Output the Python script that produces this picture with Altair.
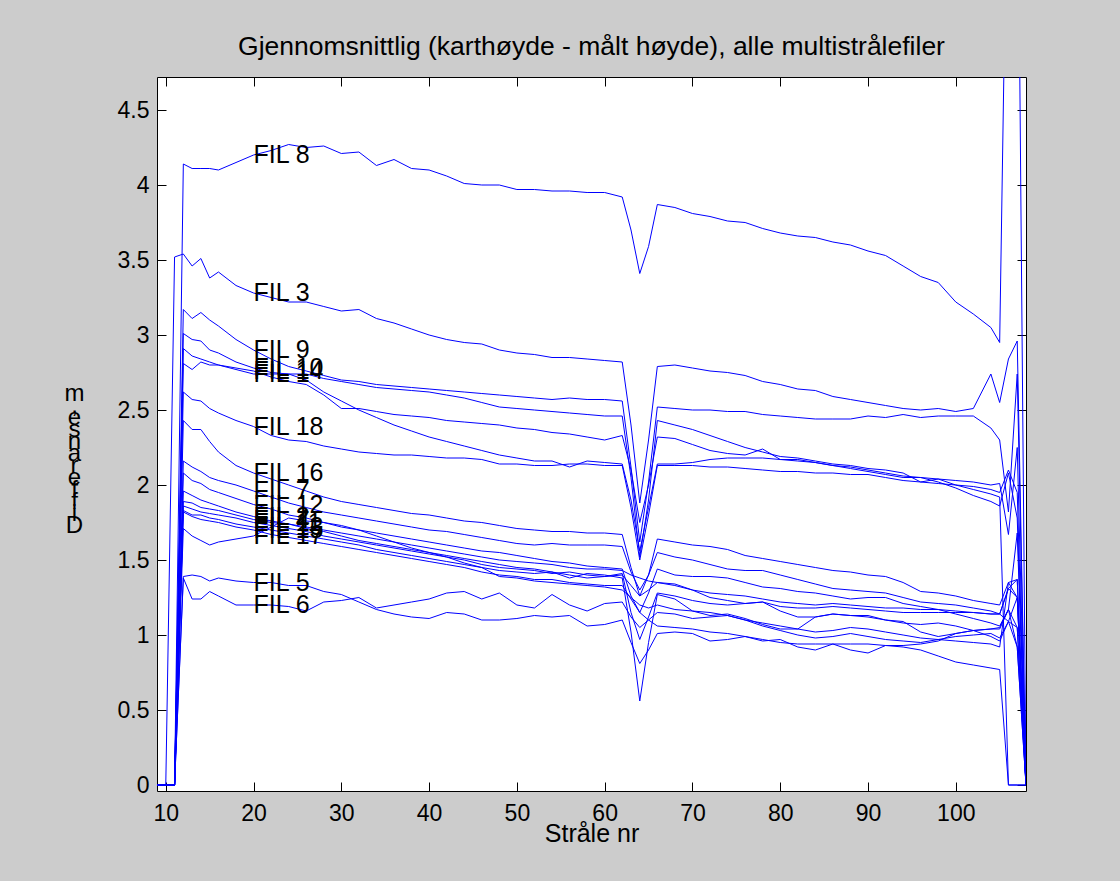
import altair as alt
import pandas as pd

# ---------------- data ----------------
BEAMS = [9, 10, 11, 12, 13, 14, 15, 16, 18, 20, 22, 24, 26, 28, 30,
         32, 34, 36, 38, 40, 42, 44, 46, 48, 50, 52, 54, 56, 58, 60, 62,
         63, 64, 65, 66, 68, 70, 72, 74, 76, 78, 80, 82, 84, 86, 88, 90,
         92, 94, 96, 98, 100, 102, 104, 105, 106, 107, 108]

FIL_8 = [0, 0, 0, 4.14, 4.11, 4.11, 4.11, 4.10, 4.15, 4.20, 4.23, 4.27, 4.25, 4.26, 4.21,
         4.22, 4.13, 4.17, 4.11, 4.10, 4.06, 4.01, 4.00, 4.00, 3.97, 3.97, 3.96, 3.96, 3.95, 3.95, 3.92,
         3.70, 3.41, 3.59, 3.87, 3.85, 3.81, 3.79, 3.76, 3.75, 3.71, 3.68, 3.66, 3.65, 3.62, 3.60, 3.56,
         3.53, 3.46, 3.39, 3.35, 3.22, 3.14, 3.05, 2.95, 6.70, 6.70, 0]
FIL_3 = [0, 0, 3.52, 3.54, 3.46, 3.51, 3.38, 3.42, 3.33, 3.28, 3.25, 3.22, 3.22, 3.19, 3.16,
         3.17, 3.11, 3.08, 3.04, 3.00, 2.97, 2.95, 2.94, 2.90, 2.88, 2.87, 2.85, 2.85, 2.84, 2.83, 2.82,
         2.40, 1.88, 2.30, 2.79, 2.80, 2.78, 2.76, 2.75, 2.73, 2.69, 2.67, 2.64, 2.63, 2.59, 2.57, 2.55,
         2.53, 2.51, 2.50, 2.51, 2.49, 2.51, 2.74, 2.55, 2.84, 2.96, 0]
FIL_9 = [0, 0, 0, 3.17, 3.11, 3.15, 3.10, 3.06, 2.97, 2.90, 2.84, 2.79, 2.76, 2.73, 2.70,
         2.69, 2.67, 2.66, 2.65, 2.64, 2.63, 2.62, 2.61, 2.60, 2.59, 2.58, 2.57, 2.58, 2.57, 2.57, 2.56,
         2.12, 1.62, 2.02, 2.52, 2.51, 2.50, 2.50, 2.49, 2.49, 2.47, 2.46, 2.45, 2.44, 2.44, 2.44, 2.46,
         2.45, 2.47, 2.45, 2.46, 2.46, 2.46, 2.38, 2.30, 1.82, 2.74, 0]
FIL_10 = [0, 0, 0, 3.01, 2.97, 2.96, 2.90, 2.88, 2.82, 2.78, 2.75, 2.74, 2.74, 2.71, 2.69,
          2.67, 2.65, 2.64, 2.63, 2.62, 2.60, 2.58, 2.55, 2.52, 2.51, 2.50, 2.49, 2.48, 2.47, 2.46, 2.46,
          2.05, 1.52, 1.90, 2.43, 2.40, 2.37, 2.33, 2.29, 2.25, 2.22, 2.19, 2.18, 2.16, 2.14, 2.13, 2.11,
          2.10, 2.08, 2.02, 2.04, 2.00, 1.97, 1.94, 1.92, 0, 0, 0]
FIL_14 = [0, 0, 0, 2.91, 2.86, 2.84, 2.82, 2.80, 2.78, 2.76, 2.72, 2.69, 2.67, 2.60, 2.51,
          2.51, 2.49, 2.47, 2.46, 2.45, 2.43, 2.42, 2.41, 2.40, 2.38, 2.37, 2.35, 2.34, 2.32, 2.30, 2.33,
          2.10, 1.75, 2.00, 2.32, 2.31, 2.27, 2.23, 2.21, 2.20, 2.24, 2.17, 2.16, 2.15, 2.13, 2.12, 2.10,
          2.08, 2.06, 2.05, 2.02, 1.98, 1.93, 1.89, 1.86, 2.08, 1.78, 0]
FIL_1 = [0, 0, 0, 2.81, 2.77, 2.82, 2.80, 2.80, 2.77, 2.74, 2.74, 2.74, 2.70, 2.62, 2.56,
         2.50, 2.45, 2.40, 2.36, 2.32, 2.29, 2.26, 2.23, 2.20, 2.18, 2.16, 2.16, 2.12, 2.16, 2.15, 2.14,
         1.90, 1.56, 1.85, 2.14, 2.14, 2.15, 2.17, 2.18, 2.18, 2.18, 2.17, 2.17, 2.15, 2.13, 2.11, 2.09,
         2.07, 2.05, 2.05, 2.04, 2.03, 2.02, 2.00, 2.01, 1.67, 2.25, 0]
FIL_18 = [0, 0, 0, 2.62, 2.57, 2.56, 2.51, 2.48, 2.43, 2.39, 2.33, 2.30, 2.29, 2.26, 2.24,
          2.22, 2.21, 2.20, 2.20, 2.19, 2.18, 2.18, 2.17, 2.14, 2.14, 2.13, 2.13, 2.14, 2.14, 2.13, 2.13,
          1.85, 1.50, 1.80, 2.13, 2.13, 2.13, 2.12, 2.12, 2.11, 2.10, 2.09, 2.09, 2.08, 2.08, 2.07, 2.07,
          2.05, 2.03, 2.02, 2.01, 2.00, 1.99, 1.97, 1.95, 2.10, 1.95, 0]
FIL_16 = [0, 0, 0, 2.43, 2.37, 2.37, 2.29, 2.22, 2.13, 2.08, 2.04, 2.00, 1.96, 1.92, 1.89,
          1.87, 1.85, 1.83, 1.81, 1.80, 1.78, 1.76, 1.75, 1.73, 1.71, 1.70, 1.69, 1.69, 1.68, 1.68, 1.67,
          1.45, 1.26, 1.40, 1.64, 1.62, 1.60, 1.59, 1.57, 1.53, 1.51, 1.49, 1.47, 1.45, 1.43, 1.42, 1.40,
          1.39, 1.35, 1.29, 1.28, 1.26, 1.23, 1.21, 1.20, 1.35, 1.37, 0]
FIL_7 = [0, 0, 0, 2.16, 2.12, 2.09, 2.05, 2.03, 2.00, 1.96, 1.92, 1.88, 1.85, 1.82, 1.80,
         1.78, 1.76, 1.74, 1.72, 1.70, 1.69, 1.67, 1.65, 1.63, 1.61, 1.60, 1.61, 1.60, 1.60, 1.60, 1.59,
         1.42, 1.30, 1.40, 1.55, 1.52, 1.50, 1.47, 1.44, 1.43, 1.43, 1.40, 1.37, 1.34, 1.31, 1.30, 1.29,
         1.28, 1.25, 1.22, 1.21, 1.20, 1.18, 1.16, 1.14, 1.31, 1.25, 0]
FIL_12 = [0, 0, 0, 2.08, 2.03, 2.01, 1.97, 1.95, 1.91, 1.87, 1.84, 1.80, 1.78, 1.75, 1.72,
          1.70, 1.68, 1.66, 1.64, 1.62, 1.60, 1.58, 1.56, 1.55, 1.53, 1.51, 1.49, 1.48, 1.46, 1.45, 1.44,
          1.26, 1.15, 1.28, 1.44, 1.40, 1.39, 1.39, 1.38, 1.35, 1.32, 1.31, 1.29, 1.28, 1.26, 1.24, 1.25,
          1.25, 1.21, 1.19, 1.17, 1.14, 1.11, 1.08, 1.06, 1.17, 1.05, 0]
FIL_2 = [0, 0, 0, 1.96, 1.93, 1.90, 1.88, 1.86, 1.82, 1.79, 1.76, 1.74, 1.72, 1.70, 1.68,
         1.66, 1.64, 1.62, 1.60, 1.58, 1.56, 1.54, 1.52, 1.50, 1.49, 1.48, 1.47, 1.45, 1.44, 1.44, 1.43,
         1.40, 1.38, 1.36, 1.35, 1.34, 1.30, 1.28, 1.27, 1.26, 1.24, 1.22, 1.21, 1.20, 1.21, 1.20, 1.19,
         1.18, 1.18, 1.17, 1.17, 1.16, 1.15, 1.14, 1.14, 1.09, 0.92, 0]
FIL_4 = [0, 0, 0, 1.89, 1.88, 1.85, 1.84, 1.83, 1.80, 1.77, 1.75, 1.74, 1.71, 1.69, 1.66,
         1.63, 1.61, 1.59, 1.57, 1.55, 1.53, 1.51, 1.49, 1.47, 1.45, 1.44, 1.42, 1.40, 1.38, 1.39, 1.41,
         1.15, 0.97, 1.12, 1.28, 1.26, 1.23, 1.21, 1.20, 1.21, 1.22, 1.16, 1.12, 1.12, 1.14, 1.13, 1.13,
         1.10, 1.09, 1.02, 0.99, 1.01, 1.03, 1.04, 1.05, 1.17, 1.68, 0]
FIL_11 = [0, 0, 0, 1.86, 1.84, 1.82, 1.81, 1.80, 1.78, 1.75, 1.73, 1.71, 1.69, 1.66, 1.64,
          1.62, 1.60, 1.58, 1.56, 1.54, 1.52, 1.50, 1.47, 1.45, 1.44, 1.43, 1.41, 1.42, 1.40, 1.39, 1.40,
          1.33, 1.26, 1.30, 1.35, 1.33, 1.30, 1.25, 1.23, 1.21, 1.22, 1.19, 1.18, 1.18, 1.19, 1.18, 1.17,
          1.16, 1.15, 1.15, 1.15, 1.15, 1.15, 1.14, 1.14, 1.31, 1.37, 0]
FIL_13 = [0, 0, 0, 1.83, 1.80, 1.80, 1.78, 1.77, 1.74, 1.72, 1.70, 1.68, 1.66, 1.64, 1.62,
          1.60, 1.57, 1.55, 1.53, 1.51, 1.49, 1.47, 1.45, 1.43, 1.42, 1.41, 1.42, 1.38, 1.41, 1.40, 1.38,
          1.02, 0.56, 0.95, 1.27, 1.24, 1.16, 1.13, 1.14, 1.11, 1.07, 1.04, 1.04, 1.12, 1.14, 1.13, 1.12,
          1.10, 1.08, 1.07, 1.08, 1.06, 1.03, 0.99, 0.96, 1.09, 1.05, 0]
FIL_15 = [0, 0, 0, 1.82, 1.79, 1.77, 1.76, 1.75, 1.72, 1.70, 1.67, 1.65, 1.63, 1.61, 1.59,
          1.57, 1.55, 1.53, 1.51, 1.49, 1.47, 1.45, 1.42, 1.40, 1.39, 1.37, 1.37, 1.35, 1.34, 1.33, 1.33,
          1.24, 1.15, 1.10, 1.06, 1.05, 1.04, 1.02, 1.01, 0.99, 0.97, 0.95, 0.94, 0.94, 0.94, 0.94, 0.94,
          0.93, 0.93, 0.94, 0.96, 1.01, 1.03, 1.04, 1.04, 1.17, 0.92, 0]
FIL_17 = [0, 0, 0, 1.71, 1.66, 1.63, 1.60, 1.62, 1.64, 1.66, 1.72, 1.78, 1.76, 1.75, 1.73,
          1.70, 1.66, 1.62, 1.58, 1.55, 1.52, 1.48, 1.45, 1.39, 1.38, 1.36, 1.35, 1.34, 1.33, 1.32, 1.30,
          1.25, 1.20, 1.18, 1.20, 1.17, 1.16, 1.15, 1.13, 1.10, 1.08, 1.06, 1.04, 1.02, 1.03, 1.05, 1.04,
          1.02, 1.00, 0.98, 0.97, 0.96, 0.95, 0.94, 0.92, 1.35, 1.25, 0]
FIL_6 = [0, 0, 0, 1.38, 1.24, 1.24, 1.29, 1.26, 1.20, 1.20, 1.20, 1.19, 1.16, 1.22, 1.23,
         1.25, 1.18, 1.20, 1.22, 1.24, 1.28, 1.29, 1.24, 1.28, 1.20, 1.18, 1.27, 1.20, 1.16, 1.21, 1.22,
         1.12, 1.05, 1.10, 1.15, 1.14, 1.11, 1.12, 1.13, 1.10, 1.06, 1.03, 1.00, 0.98, 0.99, 1.01, 0.99,
         0.97, 0.96, 0.95, 0.97, 0.99, 1.00, 1.01, 0.98, 1.09, 1.25, 0]
FIL_5 = [0, 0, 0, 1.39, 1.40, 1.39, 1.36, 1.38, 1.36, 1.35, 1.35, 1.33, 1.33, 1.29, 1.27,
         1.22, 1.17, 1.14, 1.12, 1.11, 1.15, 1.14, 1.10, 1.10, 1.11, 1.13, 1.12, 1.13, 1.06, 1.07, 1.10,
         0.95, 0.81, 0.90, 1.01, 1.02, 1.01, 0.96, 0.97, 0.99, 0.96, 0.97, 0.92, 0.90, 0.94, 0.90, 0.88,
         0.93, 0.92, 0.90, 0.86, 0.82, 0.80, 0.78, 0.77, 0, 0, 0]

SERIES = {
    "FIL 8": FIL_8, "FIL 3": FIL_3, "FIL 9": FIL_9, "FIL 10": FIL_10, "FIL 14": FIL_14,
    "FIL 1": FIL_1, "FIL 18": FIL_18, "FIL 16": FIL_16, "FIL 7": FIL_7, "FIL 12": FIL_12,
    "FIL 2": FIL_2, "FIL 4": FIL_4, "FIL 11": FIL_11, "FIL 13": FIL_13, "FIL 15": FIL_15,
    "FIL 17": FIL_17, "FIL 6": FIL_6, "FIL 5": FIL_5,
}
LABEL_BEAM = 20
X_TICKS = [10, 20, 30, 40, 50, 60, 70, 80, 90, 100]
Y_TICKS = [0, 0.5, 1, 1.5, 2, 2.5, 3, 3.5, 4, 4.5]
TITLE = "Gjennomsnittlig (karthøyde - målt høyde), alle multistrålefiler"
X_TITLE = "Stråle nr"
Y_TITLE_GLYPHS = ["m", ",", "e", "s", "n", "a", "r", "e", "f", "f", "i", "D"]

# ---------------- tables ----------------
rows = []
for name, vals in SERIES.items():
    for b, v in zip(BEAMS, vals):
        rows.append({"file": name, "beam": b, "value": v})
df = pd.DataFrame(rows)
li = BEAMS.index(LABEL_BEAM)
lab = pd.DataFrame({"file": list(SERIES.keys()),
                    "beam": [LABEL_BEAM] * len(SERIES),
                    "value": [v[li] for v in SERIES.values()]})

# ---------------- chart ----------------
W, H = 869, 714
FONT = "Liberation Sans"
xs = alt.Scale(domain=[9, 108], nice=False, zero=False)
ys = alt.Scale(domain=[-0.04, 4.72], nice=False, zero=False)

main_x = alt.Axis(orient="bottom", values=X_TICKS, format="d", ticks=False, tickSize=0,
                  domain=False, grid=False, labelFont=FONT, labelFontSize=23,
                  labelColor="black", labelPadding=29, labelBaseline="alphabetic",
                  title=X_TITLE, titleFont=FONT, titleFontSize=25, titleFontWeight="normal",
                  titleColor="black", titleBaseline="alphabetic", titleY=50)
main_y = alt.Axis(orient="left", values=Y_TICKS, format="~g", ticks=False, tickSize=0,
                  domain=False, grid=False, labelFont=FONT, labelFontSize=23,
                  labelColor="black", labelPadding=8,
                  title=Y_TITLE_GLYPHS, titleFont=FONT, titleFontSize=24,
                  titleFontWeight="normal", titleColor="black", titleAngle=0,
                  titleAlign="center", titleBaseline="alphabetic", titleLineHeight=12,
                  titleX=-83, titleY=323)


def tick_axis(orient, values, offset):
    return alt.Axis(orient=orient, values=values, offset=offset, labels=False,
                    domain=False, grid=False, ticks=True, tickSize=9,
                    tickColor="black", tickWidth=1, title=None)


lines = alt.Chart(df).mark_line(color="#0000ff", strokeWidth=1, clip=True).encode(
    x=alt.X("beam:Q", scale=xs, axis=main_x),
    y=alt.Y("value:Q", scale=ys, axis=main_y),
    detail="file:N",
    order="beam:Q",
)

labels = alt.Chart(lab).mark_text(align="left", baseline="middle", font=FONT,
                                  fontSize=25, color="black").encode(
    x=alt.X("beam:Q", scale=xs, axis=tick_axis("top", X_TICKS, -H)),
    y=alt.Y("value:Q", scale=ys, axis=tick_axis("right", Y_TICKS, -W)),
    text="file:N",
)

ghost = alt.Chart(lab).mark_point(opacity=0).encode(
    x=alt.X("beam:Q", scale=xs, axis=tick_axis("bottom", X_TICKS, -H)),
    y=alt.Y("value:Q", scale=ys, axis=tick_axis("left", Y_TICKS, -W)),
)

chart = alt.layer(lines, labels, ghost).resolve_axis(
    x="independent", y="independent"
).properties(
    width=W, height=H,
    title=alt.TitleParams(TITLE, font=FONT, fontSize=26.5, fontWeight="normal",
                          color="black", anchor="middle", baseline="alphabetic", offset=-5),
    background="#cccccc",
    autosize=alt.AutoSizeParams(type="none"),
    padding={"left": 157, "top": 77, "right": 94, "bottom": 90},
).configure_view(fill="white", stroke="black", strokeWidth=1)

chart.save("out.html", embed_options={"renderer": "svg", "actions": False})
